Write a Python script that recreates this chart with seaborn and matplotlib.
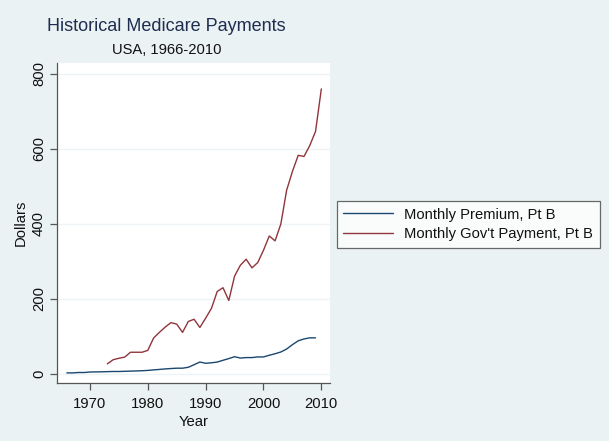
"""
Historical Medicare Payments - Stata s2color look recreated with seaborn.
"""

import numpy as np
import pandas as pd
import matplotlib.pyplot as plt
import seaborn as sns

# ── Data ─────────────────────────────────────────────────────────────────────
premium_years = list(range(1966, 2010))
premium = [3.0, 3.0, 4.0, 4.0, 5.3, 5.6, 5.8, 6.3, 6.7, 6.7,
           7.2, 7.7, 8.2, 8.7, 9.6, 11.0, 12.2, 13.5, 14.6, 15.5,
           15.5, 17.9, 24.8, 31.9, 28.6, 29.9, 31.8, 36.6, 41.1, 46.1,
           42.5, 43.8, 43.8, 45.5, 45.5, 50.0, 54.0, 58.7, 66.6, 78.2,
           88.5, 93.5, 96.4, 96.4]

govt_years = list(range(1973, 2011))
govt = [27, 38, 42, 45, 58, 58, 58, 63, 96, 111,
        125, 137, 133, 111, 140, 146, 124, 149, 175, 220,
        230, 196, 261, 290, 306, 283, 297, 330, 368, 355,
        400, 490, 540, 583, 580, 609, 647, 760]

series_names = ['Monthly Premium, Pt B', "Monthly Gov't Payment, Pt B"]
series_colors = ['#1A476F', '#90353B']

df = pd.concat([
    pd.DataFrame({'Year': premium_years, 'Dollars': premium, 'Series': series_names[0]}),
    pd.DataFrame({'Year': govt_years, 'Dollars': govt, 'Series': series_names[1]}),
], ignore_index=True)

# ── Style ────────────────────────────────────────────────────────────────────
sns.set_style('white')
plt.rcParams['font.family'] = ['Liberation Sans', 'DejaVu Sans']

BG = '#EAF2F3'
fig = plt.figure(figsize=(6.09, 4.41), dpi=100, facecolor=BG)
ax = fig.add_axes([0.0936, 0.1315, 0.4483, 0.7255])
ax.set_facecolor('white')

sns.lineplot(data=df, x='Year', y='Dollars', hue='Series',
             hue_order=series_names, palette=series_colors,
             linewidth=1.0, ax=ax, legend=False)

ax.set_xlim(1964.3, 2011.5)
ax.set_ylim(-24, 829)
ax.set_xticks([1970, 1980, 1990, 2000, 2010])
ax.set_yticks([0, 200, 400, 600, 800])
for lbl in ax.get_yticklabels():
    lbl.set_rotation(90)
    lbl.set_va('center')

ax.grid(axis='y', color='#EEF4F5', linewidth=1.0)
ax.grid(axis='x', visible=False)
for s in ['top', 'right']:
    ax.spines[s].set_visible(False)
for s in ['left', 'bottom']:
    ax.spines[s].set_color('#555555')
    ax.spines[s].set_linewidth(0.9)

ax.tick_params(axis='both', direction='out', length=5, width=0.9,
               color='#555555', labelsize=10.7, labelcolor='#111111',
               bottom=True, left=True)
ax.tick_params(axis='x', pad=5)
ax.tick_params(axis='y', pad=3)
ax.set_xlabel('Year', fontsize=10.7, color='#111111', labelpad=3)
ax.set_ylabel('Dollars', fontsize=10.7, color='#111111', labelpad=3)

# Titles
fig.text(0.273, 0.939, 'Historical Medicare Payments', fontsize=13,
         color='#1E2D50', ha='center', va='center')
fig.text(0.274, 0.886, 'USA, 1966-2010', fontsize=10.6,
         color='#111111', ha='center', va='center')

# Legend
handles = [plt.Line2D([], [], color=c, linewidth=1.0) for c in series_colors]
leg = fig.legend(handles, series_names, loc='center left',
                 bbox_to_anchor=(0.553, 0.491), frameon=True, fancybox=False,
                 fontsize=10.6, handlelength=3.4, handletextpad=0.75,
                 borderpad=0.45, borderaxespad=0, labelspacing=0.4)
leg.get_frame().set_edgecolor('#444444')
leg.get_frame().set_linewidth(0.9)
leg.get_frame().set_facecolor('white')
for t in leg.get_texts():
    t.set_color('#111111')

fig.savefig('out.png', dpi=100, facecolor=BG)
